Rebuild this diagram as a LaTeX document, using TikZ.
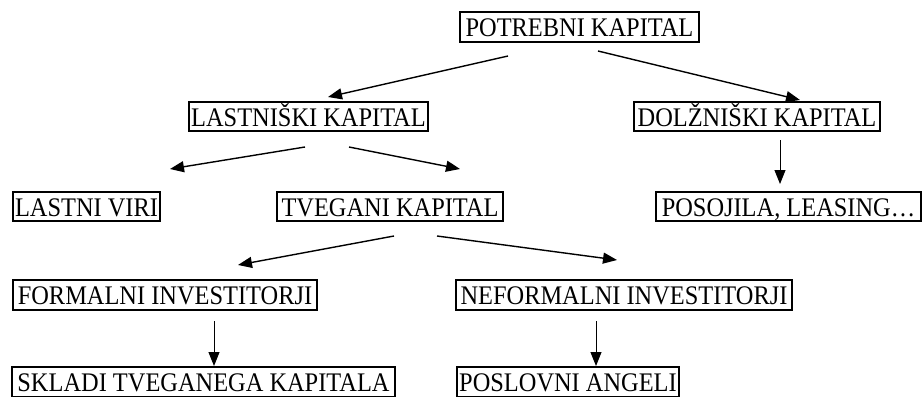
\documentclass[tikz,border=0pt]{standalone}
\usepackage{fontspec}
\usepackage{graphicx}
\setmainfont{Liberation Serif}
\usetikzlibrary{arrows.meta}
\newcommand{\vstretch}[1]{\scalebox{1}[1.1]{#1}}
\begin{document}
\begin{tikzpicture}[x=1pt,y=-1pt,
  box/.style={draw,line width=1.6pt,inner sep=0pt,minimum height=29pt,
    text height=19.5pt,text depth=0pt,font=\fontsize{24.4}{28}\selectfont},
  arr/.style={line width=1.4pt,-{Triangle[length=14pt,width=11pt]}},
  varr/.style={line width=1pt,-{Triangle[length=14pt,width=11pt]}}]
\useasboundingbox (0,0) rectangle (923,396);
\node[box,minimum width=239pt,minimum height=30pt] (pk) at (579.5,27) {\vstretch{POTREBNI KAPITAL}};
\node[box,minimum width=239pt] (lk) at (308.5,116.5) {\vstretch{LASTNIŠKI KAPITAL}};
\node[box,minimum width=246pt] (dk) at (757,116.5) {\vstretch{DOLŽNIŠKI KAPITAL}};
\node[box,minimum width=147pt] (lv) at (86.5,206.5) {\vstretch{LASTNI VIRI}};
\node[box,minimum width=226pt] (tk) at (390,206.5) {\vstretch{TVEGANI KAPITAL}};
\node[box,minimum width=265pt] (pl) at (788.5,206.5) {\vstretch{POSOJILA, LEASING…}};
\node[box,minimum width=304pt,minimum height=30pt] (fi) at (165,295) {\vstretch{FORMALNI INVESTITORJI}};
\node[box,minimum width=336pt,minimum height=30pt] (ni) at (624,295) {\vstretch{NEFORMALNI INVESTITORJI}};
\node[box,minimum width=383pt,minimum height=30pt] (sk) at (203.5,382) {\vstretch{SKLADI TVEGANEGA KAPITALA}};
\node[box,minimum width=222pt,minimum height=30pt] (pa) at (568,382) {\vstretch{POSLOVNI ANGELI}};
\coordinate (a1s) at (508,56);  \coordinate (a1e) at (328,97);
\coordinate (a2s) at (598,51);  \coordinate (a2e) at (800,100);
\coordinate (a3s) at (305,147); \coordinate (a3e) at (170,169);
\coordinate (a4s) at (349,147); \coordinate (a4e) at (460,169);
\coordinate (a5s) at (780,140); \coordinate (a5e) at (780,184);
\coordinate (a6s) at (394,236); \coordinate (a6e) at (238,265);
\coordinate (a7s) at (437,236); \coordinate (a7e) at (617,260);
\coordinate (a8s) at (214,321); \coordinate (a8e) at (214,366);
\coordinate (a9s) at (596,321); \coordinate (a9e) at (596,366);
\draw[arr] (a1s) -- (a1e);
\draw[arr] (a2s) -- (a2e);
\draw[arr] (a3s) -- (a3e);
\draw[arr] (a4s) -- (a4e);
\draw[varr] (a5s) -- (a5e);
\draw[arr] (a6s) -- (a6e);
\draw[arr] (a7s) -- (a7e);
\draw[varr] (a8s) -- (a8e);
\draw[varr] (a9s) -- (a9e);
\end{tikzpicture}
\end{document}
